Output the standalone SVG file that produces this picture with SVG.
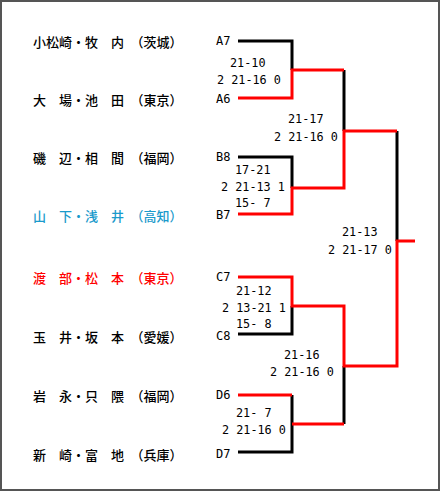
<svg xmlns="http://www.w3.org/2000/svg" width="441" height="492" viewBox="0 0 441 492">
<style>
.nm{font-family:"Noto Sans CJK JP","Noto Sans CJK SC",sans-serif;font-size:13px;font-weight:500;fill:#000;dominant-baseline:central}
.blue{fill:#1a9acb}
.red{fill:#ff0000}
.lb{font-family:"DejaVu Sans Mono","Liberation Mono",monospace;font-size:12px;fill:#000;dominant-baseline:central}
.sc{font-family:"DejaVu Sans Mono","Liberation Mono",monospace;font-size:11.8px;fill:#000;dominant-baseline:central;white-space:pre}
.bk{fill:none;stroke:#000;stroke-width:3;stroke-linejoin:miter}
.rd{fill:none;stroke:#ff0000;stroke-width:3;stroke-linejoin:miter}
</style>
<rect x="1" y="1" width="438" height="489" fill="#fff" stroke="#555" stroke-width="2"/>
<g id="p1"><text class="nm" x="33" y="41">小松崎・牧　内　（茨城）</text><text class="lb" x="216" y="41">A7</text></g>
<g id="p2"><text class="nm" x="33" y="99">大　場・池　田　（東京）</text><text class="lb" x="216" y="99">A6</text></g>
<g id="p3"><text class="nm" x="33" y="157">磯　辺・相　間　（福岡）</text><text class="lb" x="216" y="157">B8</text></g>
<g id="p4"><text class="nm blue" x="33" y="215">山　下・浅　井　（高知）</text><text class="lb" x="216" y="215">B7</text></g>
<g id="p5"><text class="nm red" x="33" y="277">渡　部・松　本　（東京）</text><text class="lb" x="216" y="277">C7</text></g>
<g id="p6"><text class="nm" x="33" y="336">玉　井・坂　本　（愛媛）</text><text class="lb" x="216" y="336">C8</text></g>
<g id="p7"><text class="nm" x="33" y="395">岩　永・只　隈　（福岡）</text><text class="lb" x="216" y="395">D6</text></g>
<g id="p8"><text class="nm" x="33" y="454">新　崎・富　地　（兵庫）</text><text class="lb" x="216" y="454">D7</text></g>
<g id="connectors">
<polyline class="bk" points="238,41 292,41 292,70"/>
<polyline class="bk" points="238,157 292,157 292,188"/>
<polyline class="bk" points="238,334 292,334 292,306"/>
<polyline class="bk" points="292,395 292,452 238,452"/>
<polyline class="bk" points="344,70 344,131"/>
<polyline class="bk" points="344,366 344,424"/>
<polyline class="bk" points="397,131 397,241"/>
<polyline class="rd" points="238,98 292,98 292,70 344,70"/>
<polyline class="rd" points="238,214 292,214 292,188 344,188 344,131 397,131"/>
<polyline class="rd" points="238,277 292,277 292,306 344,306 344,366 397,366 397,241 415,241"/>
<polyline class="rd" points="238,395 292,395"/>
<polyline class="rd" points="292,424 344,424"/>
</g>
<g id="scores">
<text class="sc" x="230" y="63">21-10</text>
<text class="sc" x="217" y="80">2 21-16 0</text>
<text class="sc" x="288" y="119">21-17</text>
<text class="sc" x="274" y="137">2 21-16 0</text>
<text class="sc" x="235" y="170">17-21</text>
<text class="sc" x="221" y="187">2 21-13 1</text>
<text class="sc" x="235" y="203">15- 7</text>
<text class="sc" x="342" y="232">21-13</text>
<text class="sc" x="328" y="250">2 21-17 0</text>
<text class="sc" x="236" y="291">21-12</text>
<text class="sc" x="222" y="308">2 13-21 1</text>
<text class="sc" x="236" y="324">15- 8</text>
<text class="sc" x="284" y="355">21-16</text>
<text class="sc" x="270" y="372">2 21-16 0</text>
<text class="sc" x="236" y="413">21- 7</text>
<text class="sc" x="222" y="430">2 21-16 0</text>
</g>
</svg>
